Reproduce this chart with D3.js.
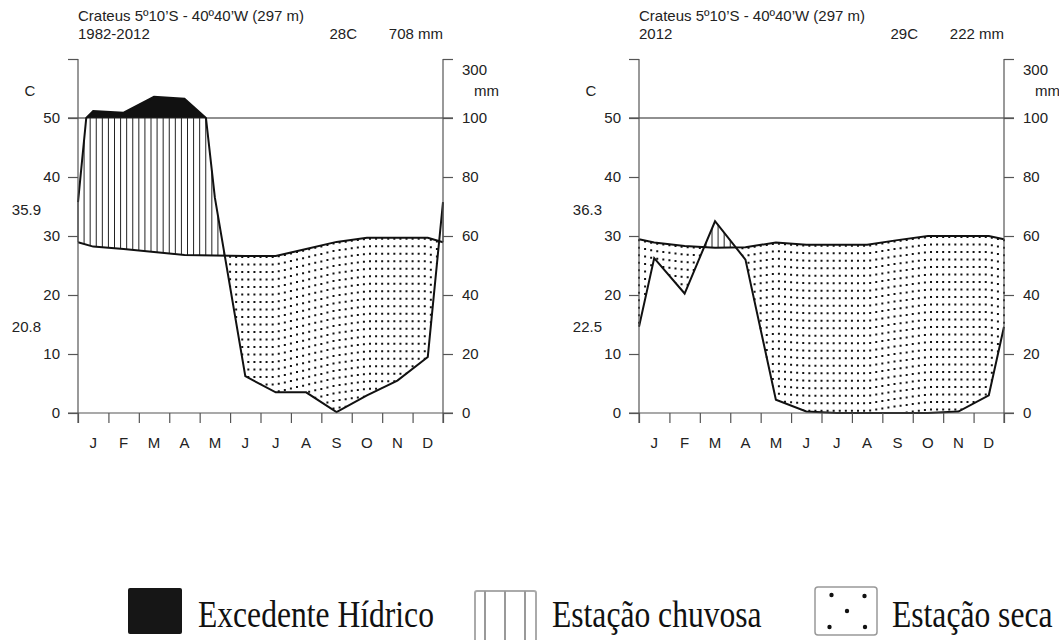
<!DOCTYPE html>
<html>
<head>
<meta charset="utf-8">
<script src="https://cdn.jsdelivr.net/npm/d3@7"></script>
<style>
  body { margin: 0; background: #fff; }
  svg text { font-family: "Liberation Sans", Arial, sans-serif; fill: #222; }
  .legend text { font-family: "Liberation Serif", "Times New Roman", serif; fill: #111; }
</style>
</head>
<body>
<svg id="chart" width="1059" height="640"></svg>
<script>
// data
const months = ["J", "F", "M", "A", "M", "J", "J", "A", "S", "O", "N", "D"];
const station = "Crateus 5º10’S - 40º40’W (297 m)";
const periods = ["1982-2012", "2012"];
const meanTemp = ["28C", "29C"];
const totalPrec = ["708 mm", "222 mm"];
const extremeMax = ["35.9", "36.3"];
const extremeMin = ["20.8", "22.5"];

const temp1 = [28.2, 27.8, 27.3, 26.8, 26.7, 26.6, 26.6, 27.8, 29.0, 29.7, 29.7, 29.7];
const prec1 = [124, 118, 172, 165, 73, 12.5, 7, 7, 0.3, 6, 11, 19];
const temp2 = [28.9, 28.3, 28.0, 28.1, 28.9, 28.5, 28.5, 28.5, 29.3, 30.0, 30.0, 30.0];
const prec2 = [52.5, 40.5, 65, 52, 4.5, 0.5, 0, 0, 0, 0, 0.5, 6];

const tempTicks = [0, 10, 20, 30, 40, 50, 60];
const precLabels = [0, 20, 40, 60, 80, 100, 300];
const legendLabels = ["Excedente Hídrico", "Estação chuvosa", "Estação seca"];

const series = [
  { temp: temp1, prec: prec1 },
  { temp: temp2, prec: prec2 }
];

const W = 365;
const chartX = [78, 639];

const svg = d3.select("#chart");

// precipitation in temperature units (20 mm = 10 C, above 100 mm 1/10 scale)
const scaleP = p => p <= 100 ? p / 2 : 50 + (p - 100) * 0.05;

function withEdges(vals) {
  const edge = (vals[11] + vals[0]) / 2;
  const pts = [[0, edge]];
  vals.forEach((v, i) => pts.push([i + 0.5, v]));
  pts.push([12, edge]);
  return pts;
}

// add points where precipitation crosses 100 mm (interpolated in mm)
function addCrossings(pts) {
  const out = [pts[0]];
  for (let i = 1; i < pts.length; i++) {
    const a = pts[i - 1], b = pts[i];
    if ((a[1] - 100) * (b[1] - 100) < 0) {
      const f = (100 - a[1]) / (b[1] - a[1]);
      out.push([a[0] + f * (b[0] - a[0]), 100]);
    }
    out.push(b);
  }
  return out;
}

function interp(pts, xv) {
  for (let i = 1; i < pts.length; i++) {
    if (xv <= pts[i][0]) {
      const a = pts[i - 1], b = pts[i];
      const f = (xv - a[0]) / (b[0] - a[0] || 1);
      return a[1] + f * (b[1] - a[1]);
    }
  }
  return pts[pts.length - 1][1];
}

function drawChart(d, i) {
  const g = svg.append("g").attr("transform", `translate(${chartX[i]},0)`);

  const x = d3.scaleLinear().domain([0, 12]).range([0, W]);
  const tY = d3.scaleLinear().domain([0, 60]).range([413, 59]);

  const tPts = withEdges(d.temp);
  const pPts = addCrossings(withEdges(d.prec)).map(p => [p[0], scaleP(p[1])]);

  // hatching: solid verticals for the wet season, dotted for the dry season
  d3.range(0, 12.0001, 0.2).forEach(xv => {
    const t = interp(tPts, xv);
    const p = interp(pPts, xv);
    if (p > t + 0.05) {
      g.append("line")
        .attr("x1", x(xv)).attr("x2", x(xv))
        .attr("y1", tY(t)).attr("y2", tY(Math.min(p, 50)))
        .attr("stroke", "#222").attr("stroke-width", 1);
    } else if (p < t - 0.05) {
      g.append("line")
        .attr("x1", x(xv)).attr("x2", x(xv))
        .attr("y1", tY(t)).attr("y2", tY(p))
        .attr("stroke", "#111").attr("stroke-width", 2)
        .attr("stroke-dasharray", "2,5.5");
    }
  });

  // excess (black) above 100 mm
  g.append("path")
    .datum(pPts)
    .attr("d", d3.area()
      .defined(p => p[1] >= 50)
      .x(p => x(p[0]))
      .y0(tY(50))
      .y1(p => tY(p[1])))
    .attr("fill", "#111");

  // 50 C / 100 mm reference line
  g.append("line")
    .attr("x1", -10).attr("x2", W + 10)
    .attr("y1", tY(50)).attr("y2", tY(50))
    .attr("stroke", "#222").attr("stroke-width", 1.2);

  g.append("path")
    .datum(tPts)
    .attr("d", d3.line().x(p => x(p[0])).y(p => tY(p[1])))
    .attr("fill", "none").attr("stroke", "#111").attr("stroke-width", 2);

  g.append("path")
    .datum(pPts)
    .attr("d", d3.line().x(p => x(p[0])).y(p => tY(p[1])))
    .attr("fill", "none").attr("stroke", "#111").attr("stroke-width", 2);

  // axes
  const axisColor = "#555";
  const left = g.append("g")
    .call(d3.axisLeft(tY).tickValues(tempTicks).tickSize(10).tickPadding(8)
      .tickFormat(v => v === 60 ? "" : v));
  const right = g.append("g")
    .attr("transform", `translate(${W},0)`)
    .call(d3.axisRight(tY).tickValues(tempTicks).tickSize(10).tickPadding(9)
      .tickFormat((v, k) => precLabels[k]));
  const bottom = g.append("g")
    .attr("transform", "translate(0,413)")
    .call(d3.axisBottom(x).tickValues(d3.range(0, 13)).tickSize(10).tickFormat(""));

  [left, right, bottom].forEach(a => {
    a.select(".domain").remove();
    a.selectAll("line").attr("stroke", axisColor).attr("stroke-width", 1.2);
    a.selectAll("text").style("font-size", "15px").attr("fill", "#333");
  });
  right.selectAll(".tick text").filter(v => v === 60).attr("dy", "1em");

  [0, W].forEach(xv => {
    g.append("line")
      .attr("x1", xv).attr("x2", xv).attr("y1", 59).attr("y2", 423)
      .attr("stroke", axisColor).attr("stroke-width", 1.2);
  });
  g.append("line")
    .attr("x1", -10).attr("x2", W + 10).attr("y1", 413).attr("y2", 413)
    .attr("stroke", axisColor).attr("stroke-width", 1.2);

  g.selectAll(".month")
    .data(months)
    .enter().append("text")
    .attr("class", "month")
    .attr("x", (m, k) => x(k + 0.5))
    .attr("y", 448)
    .attr("text-anchor", "middle")
    .style("font-size", "15px")
    .text(m => m);

  // labels
  g.append("text").attr("x", 0).attr("y", 20.5).style("font-size", "15px").text(station);
  g.append("text").attr("x", 0).attr("y", 39).style("font-size", "15px").text(periods[i]);
  g.append("text").attr("x", 279).attr("y", 39).attr("text-anchor", "end")
    .style("font-size", "15px").text(meanTemp[i]);
  g.append("text").attr("x", W).attr("y", 39).attr("text-anchor", "end")
    .style("font-size", "15px").text(totalPrec[i]);
  g.append("text").attr("x", -48).attr("y", 96).attr("text-anchor", "middle")
    .style("font-size", "15px").text("C");
  g.append("text").attr("x", W + 31).attr("y", 96)
    .style("font-size", "15px").text("mm");
  g.append("text").attr("x", -37).attr("y", tY(34.4)).attr("dy", "0.35em")
    .attr("text-anchor", "end").style("font-size", "15px").text(extremeMax[i]);
  g.append("text").attr("x", -37).attr("y", tY(14.6)).attr("dy", "0.35em")
    .attr("text-anchor", "end").style("font-size", "15px").text(extremeMin[i]);
}

series.forEach(drawChart);

// legend
const legend = svg.append("g").attr("class", "legend");

legend.append("rect")
  .attr("x", 128).attr("y", 588).attr("width", 54).attr("height", 46).attr("rx", 2)
  .attr("fill", "#161616");

legend.append("rect")
  .attr("x", 475).attr("y", 591).attr("width", 61).attr("height", 60).attr("rx", 2)
  .attr("fill", "none").attr("stroke", "#aaa").attr("stroke-width", 2);
[485, 505, 525].forEach(xv => {
  legend.append("line")
    .attr("x1", xv).attr("x2", xv).attr("y1", 591).attr("y2", 640)
    .attr("stroke", "#999").attr("stroke-width", 2);
});

legend.append("rect")
  .attr("x", 815).attr("y", 587).attr("width", 62).attr("height", 48).attr("rx", 3)
  .attr("fill", "none").attr("stroke", "#999").attr("stroke-width", 1.5);
[[831.5, 595], [864.5, 596], [847, 611], [829.5, 627], [865, 627]].forEach(p => {
  legend.append("circle").attr("cx", p[0]).attr("cy", p[1]).attr("r", 2.2).attr("fill", "#111");
});

[198, 552, 892].forEach((xv, k) => {
  legend.append("text")
    .attr("transform", `translate(${xv},627) scale(1,1.22)`)
    .style("font-size", "31.6px")
    .text(legendLabels[k]);
});
</script>
</body>
</html>
